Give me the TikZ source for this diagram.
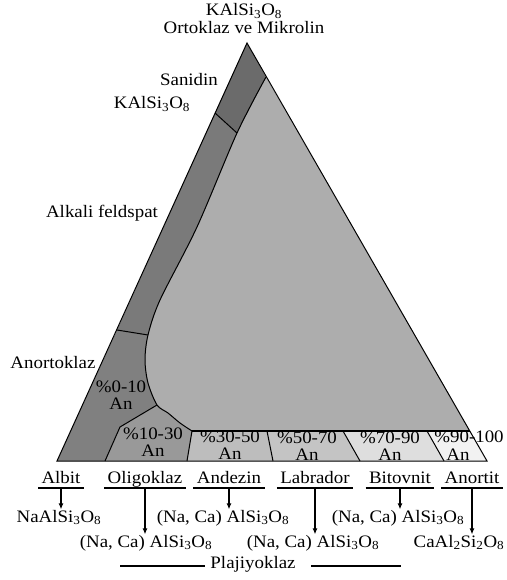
\documentclass[tikz,border=0pt]{standalone}
\usepackage{fontspec}
\setmainfont{Liberation Serif}[FakeStretch=1.08]
\usetikzlibrary{arrows.meta}

\newcommand*{\ybase}{461}
\newcommand*{\ystrip}{431}
\newcommand*{\frm}[2]{#1\textsubscript{#2}}

\definecolor{sanidingray}{gray}{0.42}
\definecolor{alkaligray}{gray}{0.48}
\definecolor{anortgray}{gray}{0.50}
\definecolor{oligogray}{gray}{0.60}
\definecolor{maingray}{gray}{0.68}
\definecolor{andgray}{gray}{0.74}
\definecolor{labgray}{gray}{0.77}
\definecolor{bitgray}{gray}{0.87}
\definecolor{anogray}{gray}{0.95}

\tikzset{
  txt/.style={inner sep=0pt, font=\fontsize{17.5}{17}\selectfont},
  mineral/.style={txt, anchor=base, inner xsep=3pt, text depth=4.5pt},
  formula/.style={txt, anchor=base},
  strip/.style={txt, align=center},
  under/.style={line width=1.3pt},
  down/.style={-{Latex[length=6pt,width=5pt]}, line width=1.1pt}
}

\begin{document}
\begin{tikzpicture}[x=1pt,y=-1pt,line width=1pt]

	\useasboundingbox (0,0) rectangle (506,580);

	% fields
	\fill[maingray] (266,77) -- (470,\ystrip) -- (192,\ystrip) -- plot[smooth] coordinates {(192,\ystrip) (180,423) (168,413) (157,405) (148,383) (145,360) (148,335) (160,300) (197,227) (237,133) (266,77)} -- cycle;
	\fill[sanidingray] (247,43) -- (266,77) -- (237,133) -- (215,113) -- cycle;
	\fill[alkaligray] (215,113) -- (237,133) -- plot[smooth] coordinates {(237,133) (197,227) (160,300) (148,335)} -- (117,330) -- cycle;
	\fill[anortgray] (117,330) -- (148,335) -- plot[smooth] coordinates {(148,335) (145,360) (148,383) (157,405)} -- (120,427) -- (105,\ybase) -- (57,\ybase) -- cycle;
	\fill[oligogray] (157,405) -- plot[smooth] coordinates {(157,405) (168,413) (180,423) (192,\ystrip)} -- (187,\ybase) -- (105,\ybase) -- (120,427) -- cycle;
	\fill[andgray] (192,\ystrip) -- (267,\ystrip) -- (273,\ybase) -- (187,\ybase) -- cycle;
	\fill[labgray] (267,\ystrip) -- (343,\ystrip) -- (360,\ybase) -- (273,\ybase) -- cycle;
	\fill[bitgray] (343,\ystrip) -- (427,\ystrip) -- (444,\ybase) -- (360,\ybase) -- cycle;
	\fill[anogray] (427,\ystrip) -- (470,\ystrip) -- (487,\ybase) -- (444,\ybase) -- cycle;

	% boundaries
	\draw[smooth] plot coordinates {(266,77) (237,133) (197,227) (160,300) (148,335) (145,360) (148,383) (157,405) (168,413) (180,423) (192,\ystrip)};
	\draw (215,113) -- (237,133);
	\draw (117,330) -- (148,335);
	\draw (157,405) -- (120,427) -- (105,\ybase);
	\draw[line width=1.6pt] (192,\ystrip) -- (470,\ystrip);
	\draw (192,\ystrip) -- (187,\ybase);
	\draw (267,\ystrip) -- (273,\ybase);
	\draw (343,\ystrip) -- (360,\ybase);
	\draw (427,\ystrip) -- (444,\ybase);
	\draw[line join=miter] (247,43) -- (487,\ybase) -- (57,\ybase) -- cycle;

	% top and left labels
	\node[formula] (kfs) at (244,16) {KAl\frm{Si}{3}\frm{O}{8}};
	\node[formula] (ortho) at (244,34) {Ortoklaz ve Mikrolin};
	\node[formula] (sanidin) at (189,86) {Sanidin};
	\node[formula] (sanfor) at (152,109) {KAl\frm{Si}{3}\frm{O}{8}};
	\node[formula] (alkali) at (102,217) {Alkali feldspat};
	\node[formula] (anortoklaz) at (53,368) {Anortoklaz};

	% strip labels
	\node[strip] (p0) at (121,395) {\%0-10\\An};
	\node[strip] (p10) at (153,442) {\%10-30\\An};
	\node[strip] (p30) at (230,445) {\%30-50\\An};
	\node[strip] (p50) at (307,446) {\%50-70\\An};
	\node[strip] (p70) at (390,446) {\%70-90\\An};
	\node[txt] (p90) at (469,437) {\%90-100};
	\node[txt] (p90an) at (458,455) {An};

	% plagioclase series
	\node[mineral] (albit) at (61,483) {Albit};
	\node[mineral] (oligo) at (145,483) {Oligoklaz};
	\node[mineral] (andezin) at (229,483) {Andezin};
	\node[mineral] (labrador) at (315,483) {Labrador};
	\node[mineral] (bitovnit) at (400,483) {Bitovnit};
	\node[mineral] (anortit) at (472,483) {Anortit};

	\node[formula] (albfor) at (59,522) {NaAl\frm{Si}{3}\frm{O}{8}};
	\node[formula] (andfor) at (223,522) {(Na, Ca) Al\frm{Si}{3}\frm{O}{8}};
	\node[formula] (bitfor) at (398,522) {(Na, Ca) Al\frm{Si}{3}\frm{O}{8}};
	\node[formula] (oligofor) at (146,547) {(Na, Ca) Al\frm{Si}{3}\frm{O}{8}};
	\node[formula] (labfor) at (313,547) {(Na, Ca) Al\frm{Si}{3}\frm{O}{8}};
	\node[formula] (anofor) at (459,547) {CaAl\frm{}{2}\frm{Si}{2}\frm{O}{8}};

	\foreach \m/\f in {albit/albfor, oligo/oligofor, andezin/andfor, labrador/labfor, bitovnit/bitfor, anortit/anofor} {
		\draw[under] (\m.south west) -- (\m.south east);
		\draw[down] (\m.south) -- (\m.south |- \f.north);
	}

	\node[formula] (plaj) at (253,568) {Plajiyoklaz};
	\draw[under] ([xshift=-5pt,yshift=2pt]plaj.base west) -- ++(-85,0);
	\draw[under] ([xshift=15pt,yshift=2pt]plaj.base east) -- ++(90,0);

\end{tikzpicture}
\end{document}
